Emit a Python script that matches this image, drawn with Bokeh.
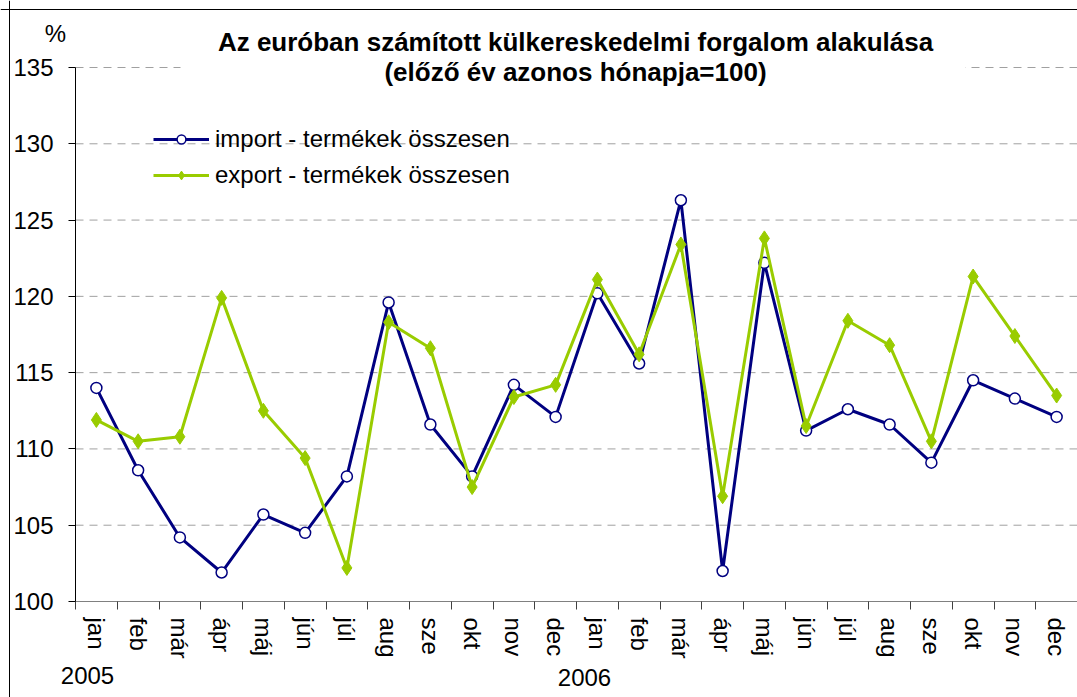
from bokeh.plotting import figure
from bokeh.models import (Range1d, FixedTicker, Label, Legend, LegendItem,
                          BoxAnnotation, ColumnDataSource, Span)
from bokeh.embed import file_html
from bokeh.resources import INLINE

months = ["jan", "feb", "már", "ápr", "máj", "jún", "júl", "aug", "sze", "okt", "nov", "dec",
          "jan", "feb", "már", "ápr", "máj", "jún", "júl", "aug", "sze", "okt", "nov", "dec"]
years = ["2005", "2006"]
import_vals = [114.0, 108.6, 104.2, 101.9, 105.7, 104.5, 108.2, 119.6, 111.6, 108.2, 114.2, 112.1,
               120.2, 115.6, 126.3, 102.0, 122.2, 111.2, 112.6, 111.6, 109.1, 114.5, 113.3, 112.1]
export_vals = [111.9, 110.5, 110.8, 119.9, 112.5, 109.4, 102.2, 118.3, 116.6, 107.5, 113.4, 114.2,
               121.1, 116.2, 123.4, 106.9, 123.8, 111.5, 118.4, 116.8, 110.5, 121.3, 117.4, 113.5]
y_ticks = [100, 105, 110, 115, 120, 125, 130, 135]
title_lines = ["Az euróban számított külkereskedelmi forgalom alakulása",
               "(előző év azonos hónapja=100)"]
legend_labels = ["import - termékek összesen", "export - termékek összesen"]

FONT = "Liberation Sans"
IMPORT_COLOR = "#000080"
EXPORT_COLOR = "#99CC00"

# ---- layout constants (pixels) ----
W, H = 1077, 697
PLOT_LEFT, PLOT_RIGHT, PLOT_TOP, PLOT_BOTTOM = 75, 1077, 67, 601
n = len(months)
y_min, y_max = y_ticks[0], y_ticks[-1]
px_x = (PLOT_RIGHT - PLOT_LEFT) / n
px_y = (PLOT_BOTTOM - PLOT_TOP) / (y_max - y_min)

def dx(px):  # page x pixel -> data x
    return (px - PLOT_LEFT) / px_x

def dy(py):  # page y pixel -> data y
    return y_max - (py - PLOT_TOP) / px_y

xs = [i + 0.5 for i in range(n)]
src = ColumnDataSource(dict(x=xs, imp=import_vals, exp=export_vals))

p = figure(width=W, height=H, output_backend="svg", toolbar_location=None,
           x_range=Range1d(dx(0), dx(W)), y_range=Range1d(dy(H), dy(0)),
           min_border=0, min_border_left=0, min_border_right=0,
           min_border_top=0, min_border_bottom=0)
p.outline_line_color = None
p.background_fill_color = "white"
p.border_fill_color = "white"
p.xgrid.visible = False
p.ygrid.visible = False

# outer chart border (top and left)
p.add_layout(Span(location=dx(9), dimension="height", line_color="black", line_width=1))
p.add_layout(Span(location=dy(9), dimension="width", line_color="black", line_width=1))

# gridlines
grid_ys = y_ticks[1:]
p.segment(x0=[0] * len(grid_ys), x1=[n] * len(grid_ys), y0=grid_ys, y1=grid_ys,
          line_color="#A0A0A0", line_dash="8 6", line_width=1)

# axes fixed inside the full-canvas frame
p.xaxis.fixed_location = y_min
p.xaxis.bounds = (0, n)
p.xaxis.ticker = FixedTicker(ticks=xs, minor_ticks=list(range(n + 1)))
p.xaxis.major_label_overrides = {x: m for x, m in zip(xs, months)}
p.xaxis.major_label_orientation = "vertical"
p.xaxis.major_tick_out = 0
p.xaxis.major_tick_in = 0
p.xaxis.minor_tick_out = 8
p.xaxis.minor_tick_in = 0
p.xaxis.minor_tick_line_color = "#404040"
p.xaxis.axis_line_color = "#808080"
p.xaxis.major_label_text_font = FONT
p.xaxis.major_label_text_font_size = "24px"
p.xaxis.major_label_text_color = "black"
p.xaxis.major_label_standoff = 8

p.yaxis.fixed_location = 0
p.yaxis.bounds = (y_min, y_max)
p.yaxis.ticker = FixedTicker(ticks=y_ticks)
p.yaxis.minor_tick_line_color = None
p.yaxis.major_tick_out = 7
p.yaxis.major_tick_in = 0
p.yaxis.axis_line_color = "black"
p.yaxis.major_tick_line_color = "black"
p.yaxis.major_label_text_font = FONT
p.yaxis.major_label_text_font_size = "24px"
p.yaxis.major_label_text_color = "black"
p.yaxis.major_label_standoff = 15

# white box behind the title
p.add_layout(BoxAnnotation(left=dx(180), right=dx(965), bottom=dy(86), top=dy(20),
                           fill_color="white", fill_alpha=1.0, line_alpha=0))

# series
r_il = p.line("x", "imp", source=src, line_color=IMPORT_COLOR, line_width=3)
r_is = p.scatter("x", "imp", source=src, marker="circle", size=11,
                 fill_color="white", line_color=IMPORT_COLOR, line_width=1.5)
r_el = p.line("x", "exp", source=src, line_color=EXPORT_COLOR, line_width=3)
r_es = p.scatter("x", "exp", source=src, marker="diamond", size=15,
                 fill_color=EXPORT_COLOR, line_color=EXPORT_COLOR)

legend = Legend(items=[LegendItem(label=legend_labels[0], renderers=[r_il, r_is]),
                       LegendItem(label=legend_labels[1], renderers=[r_el, r_es])],
                location=(153, 508), orientation="vertical",
                label_text_font=FONT, label_text_font_size="24px", label_text_color="black",
                glyph_width=56, glyph_height=22, label_height=22, spacing=8,
                label_standoff=6, border_line_color=None, background_fill_alpha=0,
                padding=0, margin=0)
p.add_layout(legend)

def add_text(px, py, text, size, bold=False):
    kw = dict(x=dx(px), y=dy(py), text=text, text_align="center", text_baseline="middle",
              text_font=FONT, text_font_size=size, text_color="black")
    if bold:
        kw["text_font_style"] = "bold"
    p.add_layout(Label(**kw))

add_text(575, 41, title_lines[0], "26px", bold=True)
add_text(575, 71, title_lines[1], "26px", bold=True)
add_text(55, 33, "%", "24px")
add_text(87, 675, years[0], "24px")
add_text(584, 677, years[1], "24px")

open("out.html", "w").write(file_html(p, INLINE))
